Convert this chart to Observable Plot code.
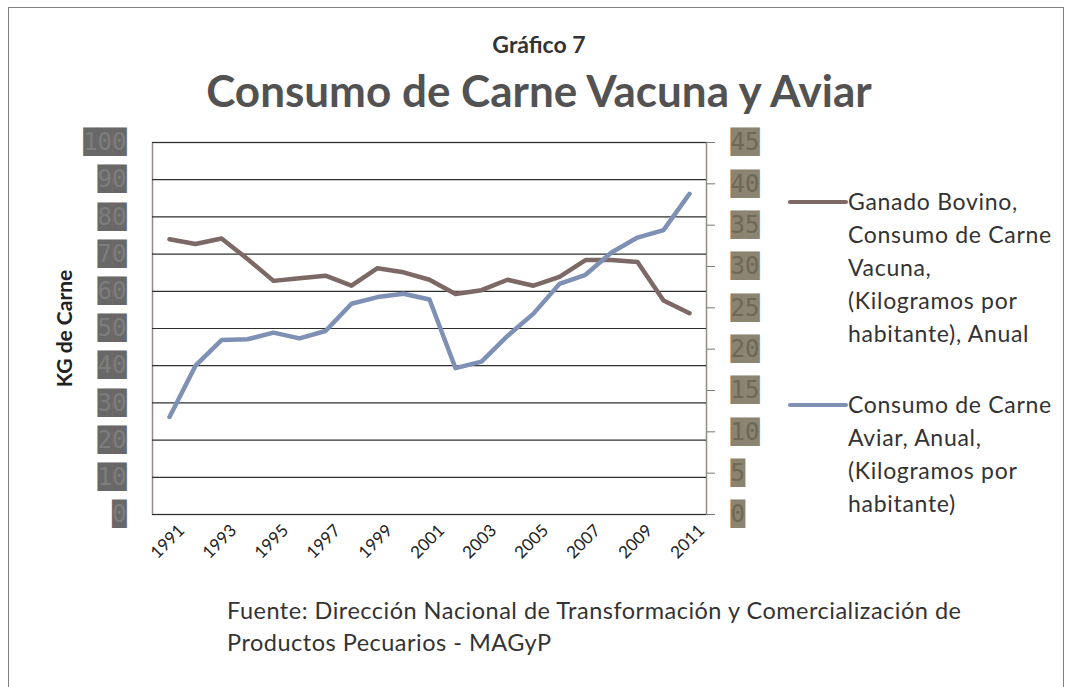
<!DOCTYPE html>
<html><head><meta charset="utf-8">
<script src="https://cdn.jsdelivr.net/npm/d3@7"></script>
<script src="https://cdn.jsdelivr.net/npm/@observablehq/plot@0.6"></script>
<style>
body{margin:0;background:#fff;}
#wrap{position:relative;width:1073px;height:687px;overflow:hidden;font-family:Lato,"Open Sans",sans-serif;color:#333;}
#border{position:absolute;left:8px;top:7px;width:1056px;height:720px;border:1.5px solid #808080;box-sizing:border-box;}
#chart{position:absolute;left:0;top:0;}
.abs{position:absolute;white-space:nowrap;}
.sw{position:absolute;height:4px;border-radius:2px;}
</style></head>
<body><div id="wrap"><div id="border"></div><div id="chart"></div>
<div class="abs" id="sup" style="left:0;width:1078px;text-align:center;top:31px;font-size:23px;line-height:27px;font-weight:bold;color:#333;"></div>
<div class="abs" id="title" style="left:0;width:1078px;text-align:center;top:64px;font-size:44px;line-height:52px;font-weight:bold;color:#525252;"></div>
<div id="legend"></div>
<div class="abs" id="foot" style="left:227px;top:594px;font-size:23.5px;letter-spacing:0.5px;line-height:32px;color:#333;"></div>
</div>
<script>
const years = [1991,1992,1993,1994,1995,1996,1997,1998,1999,2000,2001,2002,2003,2004,2005,2006,2007,2008,2009,2010,2011];
const bovino = [74.0,72.7,74.2,68.7,62.8,63.5,64.2,61.5,66.2,65.1,63.1,59.3,60.3,63.1,61.5,63.9,68.4,68.4,67.9,57.5,54.1];
const aviar  = [11.8,18.0,21.1,21.2,22.0,21.3,22.2,25.5,26.3,26.7,26.0,17.7,18.5,21.6,24.3,27.9,29.0,31.7,33.5,34.4,38.8];
const leftTicks = [0,10,20,30,40,50,60,70,80,90,100];
const rightTicks = [0,5,10,15,20,25,30,35,40,45];
const xTickYears = [1991,1993,1995,1997,1999,2001,2003,2005,2007,2009,2011];
const leftMax = 100, rightMax = 45;
const supTitle = "Gráfico 7";
const title = "Consumo de Carne Vacuna y Aviar";
const yLabel = "KG de Carne";
const seriesNames = [
  ["Ganado Bovino,","Consumo de Carne","Vacuna,","(Kilogramos por","habitante), Anual"],
  ["Consumo de Carne","Aviar, Anual,","(Kilogramos por","habitante)"]
];
const seriesColors = ["#7c6865","#7e90b4"];
const footLines = ["Fuente: Dirección Nacional de Transformación y Comercialización de","Productos Pecuarios - MAGyP"];

const toLeft = v => v * leftMax / rightMax;
const bovinoData = years.map((year,i)=>({year, value: bovino[i]}));
const aviarData = years.map((year,i)=>({year, value: toLeft(aviar[i])}));

const block = d => "\u2588".repeat(String(d).length);
const mono = "DejaVu Sans Mono";

const plot = Plot.plot({
  width:1073, height:687,
  marginLeft:152, marginRight:367, marginTop:142, marginBottom:173,
  x:{type:"point", domain: years, padding:0.5, axis:null},
  y:{domain:[0,leftMax], axis:null, label:null},
  style:{background:"transparent", overflow:"visible"},
  marks:[
    Plot.frame({stroke:"#948a87", strokeWidth:1.5}),
    Plot.ruleY(leftTicks, {stroke:"#2e2e2e", strokeWidth:1.2}),
    Plot.axisY({anchor:"right", ticks: rightTicks.map(toLeft), tickSize:8, tickFormat:()=>"", stroke:"#777", label:null}),
    Plot.text(leftTicks, {y:d=>d, frameAnchor:"left", dx:-26, textAnchor:"end", text:block, fontFamily:mono, fontSize:24, fill:"#686868"}),
    Plot.text(leftTicks, {y:d=>d, frameAnchor:"left", dx:-26, textAnchor:"end", text:d=>String(d), fontFamily:mono, fontSize:24, fill:"#7d7d7d"}),
    Plot.text(rightTicks, {y:d=>toLeft(d), frameAnchor:"right", dx:24, textAnchor:"start", text:block, fontFamily:mono, fontSize:24, fill:"#8b8470"}),
    Plot.text(rightTicks, {y:d=>toLeft(d), frameAnchor:"right", dx:24, textAnchor:"start", text:d=>String(d), fontFamily:mono, fontSize:24, fill:"#6e6858"}),
    Plot.text(xTickYears, {x:d=>d, frameAnchor:"bottom", rotate:-45, textAnchor:"end", dx:16, dy:17, text:d=>String(d), fontSize:17, fontFamily:"Lato", fill:"#222"}),
    Plot.text([yLabel], {frameAnchor:"left", rotate:-90, dx:-87, textAnchor:"middle", text:d=>d, fontWeight:"bold", fontSize:21, fontFamily:"Lato", fill:"#222", style:{letterSpacing:"0.5px"}}),
    Plot.line(bovinoData, {x:"year", y:"value", stroke:seriesColors[0], strokeWidth:4.5, strokeLinejoin:"round", strokeLinecap:"round"}),
    Plot.line(aviarData, {x:"year", y:"value", stroke:seriesColors[1], strokeWidth:4.5, strokeLinejoin:"round", strokeLinecap:"round"})
  ]
});
document.getElementById("chart").appendChild(plot);
document.getElementById("sup").textContent = supTitle;
document.getElementById("title").textContent = title;
document.getElementById("foot").innerHTML = footLines.join("<br>");

const legendTops = [185, 388];
const leg = document.getElementById("legend");
seriesNames.forEach((lines,i)=>{
  const sw = document.createElement("div");
  sw.className = "sw";
  sw.style.cssText += `left:788px;top:${legendTops[i]+15}px;width:60px;background:${seriesColors[i]};`;
  leg.appendChild(sw);
  const t = document.createElement("div");
  t.className = "abs";
  t.style.cssText = `left:848px;top:${legendTops[i]}px;font-size:23px;letter-spacing:0.7px;line-height:33px;color:#333;`;
  t.innerHTML = lines.join("<br>");
  leg.appendChild(t);
});
</script>
</body></html>
